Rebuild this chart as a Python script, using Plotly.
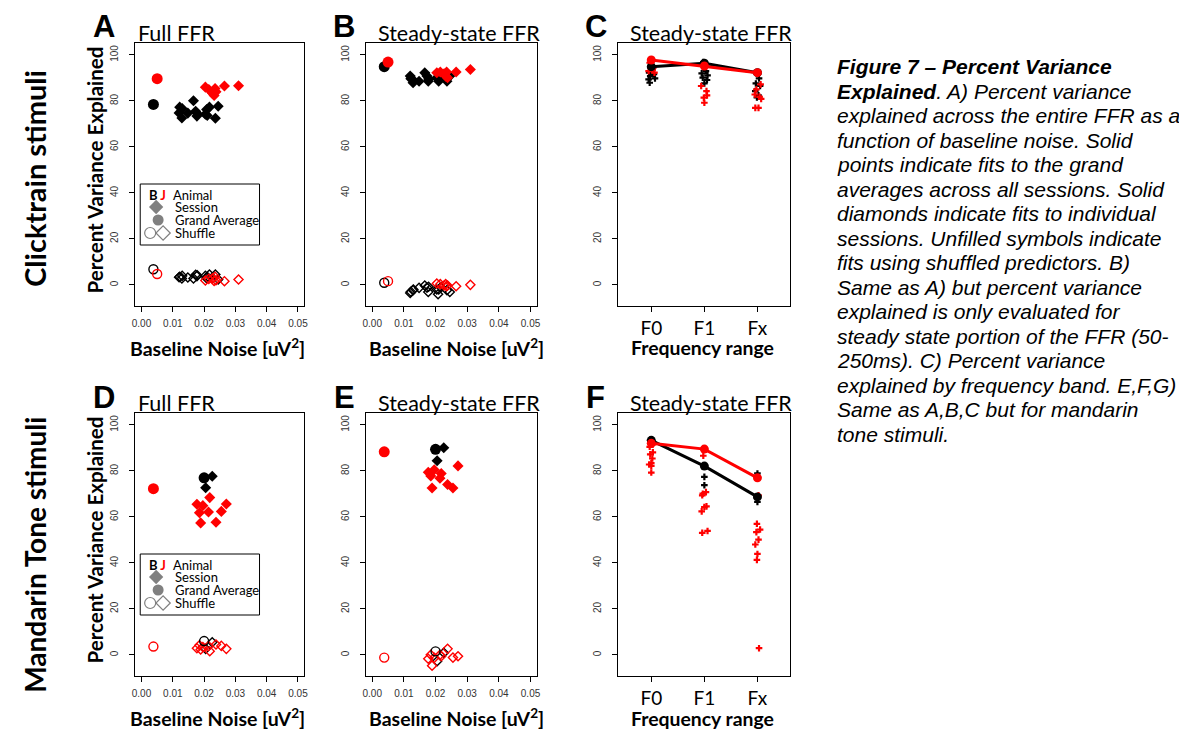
import plotly.graph_objects as go

# ---------------- data ----------------
noise_ticks = [0.0, 0.01, 0.02, 0.03, 0.04, 0.05]
noise_tick_labels = ["0.00", "0.01", "0.02", "0.03", "0.04", "0.05"]
pve_ticks = [0, 20, 40, 60, 80, 100]
pve_tick_labels = ["0", "20", "40", "60", "80", "100"]
freq_ranges = ["F0", "F1", "Fx"]

# Clicktrain stimuli: baseline noise per session (animal B = black, animal J = red)
click_B_noise = [0.0120, 0.0122, 0.0129, 0.0130, 0.0148, 0.0166, 0.0173, 0.0177,
                 0.0178, 0.0204, 0.0208, 0.0210, 0.0217, 0.0236, 0.0245]
click_J_noise = [0.0204, 0.0215, 0.0227, 0.0232, 0.0235, 0.0238, 0.0265, 0.0310]
click_B_ga_noise = [0.0038]
click_J_ga_noise = [0.0050]

# Panel A (Full FFR, clicktrain)
A_B_sess = [74.8, 77.3, 72.6, 76.7, 74.7, 80.1, 75.5, 73.4, 74.5, 74.2, 76.3, 73.7, 77.3, 72.5, 77.7]
A_B_shuf = [3.3, 3.5, 2.8, 3.9, 3.2, 2.8, 4.4, 3.8, 4.2, 3.9, 2.9, 3.5, 4.5, 4.5, 2.3]
A_J_sess = [86.0, 85.0, 83.3, 82.4, 85.4, 84.0, 86.5, 86.6]
A_J_shuf = [1.9, 2.6, 2.8, 1.7, 3.5, 2.0, 1.6, 2.3]
A_B_ga = [78.5]
A_J_ga = [89.7]
A_B_ga_shuf = [6.8]
A_J_ga_shuf = [4.7]

# Panel B (Steady-state FFR, clicktrain)
B_B_sess = [90.8, 89.7, 87.9, 89.0, 88.6, 92.3, 90.8, 88.6, 89.5, 90.1, 89.4, 88.6, 90.4, 88.6, 90.8]
B_B_shuf = [-3.5, -3.0, -2.3, -2.0, -1.3, -0.3, -1.2, -3.1, -0.8, -2.0, -4.1, -2.0, -1.0, -2.3, -3.1]
B_J_sess = [92.3, 92.6, 91.8, 90.8, 92.6, 90.1, 92.6, 93.7]
B_J_shuf = [0.6, 0.3, -0.3, 0.3, -0.6, -0.3, -0.6, 0.0]
B_B_ga = [94.9]
B_J_ga = [96.9]
B_B_ga_shuf = [0.9]
B_J_ga_shuf = [1.6]

# Panel C (by frequency band, clicktrain)
C_B_ga = [94.9, 96.4, 92.3]
C_J_ga = [97.8, 95.2, 92.3]
C_B_band = [0, 0, 0, 0, 0, 0, 0, 1, 1, 1, 1, 1, 1, 1, 2, 2, 2, 2, 2, 2]
C_B_val = [93.7, 92.3, 91.6, 90.8, 89.8, 89.4, 87.9,
           96.9, 93.0, 92.0, 91.1, 90.1, 89.1, 87.6,
           89.8, 87.6, 86.5, 84.3, 82.4, 81.5]
C_B_jit = [0.02, -0.04, 0.05, -0.02, 0.07, -0.05, -0.03,
           -0.02, 0.03, -0.05, 0.06, -0.03, 0.05, 0.0,
           0.03, -0.03, 0.05, -0.04, 0.02, -0.01]
C_J_band = [0, 0, 0, 0, 0, 1, 1, 1, 1, 1, 1, 2, 2, 2, 2, 2, 2, 2]
C_J_val = [96.6, 94.5, 93.0, 92.3, 93.5,
           95.0, 86.5, 84.3, 82.4, 81.4, 79.2,
           87.2, 82.8, 81.8, 80.9, 77.0, 77.0, 85.0]
C_J_jit = [-0.03, 0.04, -0.05, 0.06, 0.02,
           0.03, -0.06, 0.04, 0.05, -0.01, 0.0,
           0.06, -0.05, 0.04, 0.07, -0.04, 0.02, -0.02]

# Mandarin tone stimuli: baseline noise per session
mand_B_noise = [0.0205, 0.0226]
mand_J_noise = [0.0177, 0.0185, 0.0189, 0.0196, 0.0214, 0.0218, 0.0238, 0.0255, 0.0271]
mand_B_ga_noise = [0.0200]
mand_J_ga_noise = [0.0038]

# Panel D (Full FFR, mandarin)
D_B_sess = [72.7, 77.7]
D_B_shuf = [2.6, 5.5]
D_J_sess = [65.5, 61.8, 57.4, 64.9, 62.1, 68.4, 57.7, 62.4, 65.6]
D_J_shuf = [2.9, 4.2, 2.3, 3.4, 3.8, 1.6, 4.5, 3.9, 2.6]
D_B_ga = [77.0]
D_J_ga = [72.3]
D_B_ga_shuf = [6.0]
D_J_ga_shuf = [3.6]

# Panel E (Steady-state FFR, mandarin)
E_B_sess = [84.4, 90.1]
E_B_shuf = [-2.8, 0.9]
E_J_sess = [79.4, 77.8, 72.6, 80.5, 76.8, 78.9, 74.1, 72.6, 82.2]
E_J_shuf = [-1.7, 0.0, -4.7, -1.3, 0.0, -0.6, 2.6, -1.2, -0.6]
E_B_ga = [89.4]
E_J_ga = [88.3]
E_B_ga_shuf = [1.5]
E_J_ga_shuf = [-1.2]

# Panel F (by frequency band, mandarin)
F_B_ga = [93.3, 82.1, 68.7]
F_J_ga = [92.0, 89.5, 77.0]
F_B_band = [0, 0, 1, 1, 2, 2]
F_B_val = [93.4, 92.7, 77.4, 73.8, 78.9, 66.5]
F_B_jit = [-0.02, 0.03, 0.0, 0.0, 0.0, 0.0]
F_J_band = [0, 0, 0, 0, 0, 0, 0, 0, 0,
            1, 1, 1, 1, 1, 1, 1, 1, 1,
            2, 2, 2, 2, 2, 2, 2, 2, 2]
F_J_val = [91.5, 88.1, 87.2, 85.4, 83.4, 82.8, 82.2, 79.3, 90.5,
           86.6, 70.8, 70.1, 69.4, 64.6, 64.3, 62.4, 53.9, 53.1,
           69.4, 57.0, 54.5, 53.4, 50.1, 48.0, 43.9, 41.3, 2.9]
F_J_jit = [0.03, 0.03, -0.02, 0.02, 0.0, -0.04, 0.0, 0.0, -0.03,
           -0.02, 0.03, -0.03, -0.04, 0.04, 0.0, -0.05, 0.06, -0.04,
           0.02, -0.01, 0.05, -0.02, 0.02, -0.04, 0.0, -0.01, 0.03]

caption_lines = [
    "<b><i>Figure 7 \u2013 Percent Variance</i></b>",
    "<b><i>Explained</i></b><i>. A) Percent variance</i>",
    "<i>explained across the entire FFR as a</i>",
    "<i>function of baseline noise. Solid</i>",
    "<i>points indicate fits to the grand</i>",
    "<i>averages across all sessions. Solid</i>",
    "<i>diamonds indicate fits to individual</i>",
    "<i>sessions. Unfilled symbols indicate</i>",
    "<i>fits using shuffled predictors. B)</i>",
    "<i>Same as A) but percent variance</i>",
    "<i>explained is only evaluated for</i>",
    "<i>steady state portion of the FFR (50-</i>",
    "<i>250ms). C) Percent variance</i>",
    "<i>explained by frequency band. E,F,G)</i>",
    "<i>Same as A,B,C but for mandarin</i>",
    "<i>tone stimuli.</i>",
]

# ---------------- layout helpers ----------------
PAGE_W, PAGE_H = 1187, 730
OFF = 8  # default body margin of the html page
W, H = PAGE_W - OFF, PAGE_H - OFF
BLACK, RED, GREY = "#000000", "#ff0000", "#808080"
TXT_FONT = "Lato"
NUM_FONT = "Liberation Sans"


def px(x):
    return (x - OFF) / W


def py(y):
    return 1 - (y - OFF) / H


col_px = [(133, 303), (365, 537), (619, 792)]
row_px = [(43, 306), (413, 676)]

fig = go.Figure()


def axis_base():
    return dict(showline=True, mirror=True, linecolor="black", linewidth=1.2,
                ticks="outside", ticklen=5, tickwidth=1, tickcolor="black",
                showgrid=False, zeroline=False, fixedrange=True)


def add_axes(i, row, col, kind):
    sx = "" if i == 1 else str(i)
    xa = axis_base()
    xa.update(domain=[px(col_px[col][0]), px(col_px[col][1])], anchor="y" + sx)
    if kind == "noise":
        xa.update(range=[-0.002, 0.052], tickvals=noise_ticks, ticktext=noise_tick_labels,
                  tickfont=dict(family=NUM_FONT, size=10, color="#333333"), ticklabelstandoff=3)
    else:
        xa.update(range=[0.38, 3.62], tickvals=[1, 2, 3], ticktext=freq_ranges,
                  tickfont=dict(family=TXT_FONT, size=19, color="black"), ticklabelstandoff=0)
    ya = axis_base()
    ya.update(domain=[py(row_px[row][1]), py(row_px[row][0])], anchor="x" + sx,
              range=[-9.2, 105.2], tickvals=pve_ticks, ticktext=pve_tick_labels, tickangle=-90,
              tickfont=dict(family=NUM_FONT, size=10, color="#333333"), ticklabelstandoff=7)
    fig.update_layout(**{"xaxis" + sx: xa, "yaxis" + sx: ya})
    return "x" + sx, "y" + sx


def sc(xa, ya, x, y, color, symbol, size, lw=0, mode="markers", line=None, hover=True):
    marker = dict(color=color, symbol=symbol, size=size, line=dict(color=color, width=lw))
    kw = dict(x=x, y=y, mode=mode, marker=marker, xaxis=xa, yaxis=ya, showlegend=False,
              hoverinfo="x+y" if hover else "skip")
    if line is not None:
        kw["line"] = line
    fig.add_trace(go.Scatter(**kw))


def noise_panel(i, row, col, bn, jn, bgn, jgn, b_sess, b_shuf, j_sess, j_shuf,
                b_ga, j_ga, b_gas, j_gas):
    xa, ya = add_axes(i, row, col, "noise")
    sc(xa, ya, bn, b_shuf, BLACK, "diamond-open", 7, 1.4)
    sc(xa, ya, jn, j_shuf, RED, "diamond-open", 7, 1.4)
    sc(xa, ya, bn, b_sess, BLACK, "diamond", 8.5)
    sc(xa, ya, jn, j_sess, RED, "diamond", 8.5)
    sc(xa, ya, bgn, b_gas, BLACK, "circle-open", 9, 1.4)
    sc(xa, ya, jgn, j_gas, RED, "circle-open", 9, 1.4)
    sc(xa, ya, bgn, b_ga, BLACK, "circle", 11)
    sc(xa, ya, jgn, j_ga, RED, "circle", 11)


def band_panel(i, row, col, b_ga, j_ga, bb, bv, bj, jb, jv, jj):
    xa, ya = add_axes(i, row, col, "band")
    bx = [b + 1 + j for b, j in zip(bb, bj)]
    jx = [b + 1 + j for b, j in zip(jb, jj)]
    sc(xa, ya, bx, bv, BLACK, "cross", 5.5)
    sc(xa, ya, jx, jv, RED, "cross", 5.5)
    cats = [1, 2, 3]
    sc(xa, ya, cats, b_ga, BLACK, "circle", 9, mode="lines+markers",
       line=dict(color=BLACK, width=3))
    sc(xa, ya, cats, j_ga, RED, "circle", 9, mode="lines+markers",
       line=dict(color=RED, width=3))


noise_panel(1, 0, 0, click_B_noise, click_J_noise, click_B_ga_noise, click_J_ga_noise,
            A_B_sess, A_B_shuf, A_J_sess, A_J_shuf, A_B_ga, A_J_ga, A_B_ga_shuf, A_J_ga_shuf)
noise_panel(2, 0, 1, click_B_noise, click_J_noise, click_B_ga_noise, click_J_ga_noise,
            B_B_sess, B_B_shuf, B_J_sess, B_J_shuf, B_B_ga, B_J_ga, B_B_ga_shuf, B_J_ga_shuf)
band_panel(3, 0, 2, C_B_ga, C_J_ga, C_B_band, C_B_val, C_B_jit, C_J_band, C_J_val, C_J_jit)
noise_panel(4, 1, 0, mand_B_noise, mand_J_noise, mand_B_ga_noise, mand_J_ga_noise,
            D_B_sess, D_B_shuf, D_J_sess, D_J_shuf, D_B_ga, D_J_ga, D_B_ga_shuf, D_J_ga_shuf)
noise_panel(5, 1, 1, mand_B_noise, mand_J_noise, mand_B_ga_noise, mand_J_ga_noise,
            E_B_sess, E_B_shuf, E_J_sess, E_J_shuf, E_B_ga, E_J_ga, E_B_ga_shuf, E_J_ga_shuf)
band_panel(6, 1, 2, F_B_ga, F_J_ga, F_B_band, F_B_val, F_B_jit, F_J_band, F_J_val, F_J_jit)

# overlay axis in page pixels, used only for the legend key symbols
fig.update_layout(
    xaxis7=dict(domain=[0, 1], range=[OFF, PAGE_W], visible=False, anchor="y7",
                fixedrange=True),
    yaxis7=dict(domain=[0, 1], range=[PAGE_H, OFF], visible=False, anchor="x7",
                fixedrange=True),
)
for dy in (0, 370):
    sc("x7", "y7", [154], [207 + dy], GREY, "diamond", 11, hover=False)
    sc("x7", "y7", [156], [220 + dy], GREY, "circle", 11, hover=False)
    sc("x7", "y7", [148], [233 + dy], GREY, "circle-open", 11, 1.2, hover=False)
    sc("x7", "y7", [161], [233 + dy], GREY, "diamond-open", 11, 1.2, hover=False)

# ---------------- annotations ----------------
ann = []


def txt(x, y, text, size, family=TXT_FONT, color="black", xanchor="center",
        yanchor="middle", angle=0, align="center"):
    ann.append(dict(x=px(x), y=py(y), xref="paper", yref="paper", text=text, showarrow=False,
                    xanchor=xanchor, yanchor=yanchor, textangle=angle, align=align,
                    font=dict(family=family, size=size, color=color)))


# row labels
txt(32, 178, "<b>Clicktrain stimuli</b>", 29, angle=-90)
txt(32, 555, "<b>Mandarin Tone stimuli</b>", 28, angle=-90)

for dy, letters in [(0, ["A", "B", "C"]), (370, ["D", "E", "F"])]:
    for cx, L in zip([102, 343, 596], letters):
        txt(cx, 27 + dy, "<b>" + L + "</b>", 31, family=NUM_FONT)
    txt(174, 33 + dy, "Full FFR", 21.5)
    txt(459, 33 + dy, "Steady-state FFR", 21.5)
    txt(712, 33 + dy, "Steady-state FFR", 21.5)
    txt(92, 170 + dy, "<b>Percent Variance Explained</b>", 20.5, angle=-90)
    txt(216, 347 + dy, "<b>Baseline Noise [uV<sup>2</sup>]</b>", 19.5)
    txt(456, 347 + dy, "<b>Baseline Noise [uV<sup>2</sup>]</b>", 19.5)
    txt(704, 348 + dy, "<b>Frequency range</b>", 19.4)
    # legend text (panels A and D)
    txt(155.5, 195 + dy, "<b>B <span style='color:#ff0000'>J</span></b>", 13)
    txt(169, 195 + dy, "Animal", 13, xanchor="left")
    txt(171, 207 + dy, "Session", 13, xanchor="left")
    txt(171, 220 + dy, "Grand Average", 13, xanchor="left")
    txt(171, 233 + dy, "Shuffle", 13, xanchor="left")

for k, line in enumerate(caption_lines):
    txt(837, 66.7 + 24.5 * k, line, 21.0, family=NUM_FONT, xanchor="left", align="left")

shapes = []
for dy in (0, 370):
    shapes.append(dict(type="rect", xref="paper", yref="paper",
                       x0=px(138), x1=px(258), y0=py(184 + dy), y1=py(245 + dy),
                       line=dict(color="black", width=1), fillcolor="rgba(255,255,255,0)",
                       layer="above"))

fig.update_layout(width=W, height=H, margin=dict(l=0, r=0, t=0, b=0),
                  paper_bgcolor="white", plot_bgcolor="rgba(0,0,0,0)",
                  annotations=ann, shapes=shapes, showlegend=False)

fig.write_html("out.html")
